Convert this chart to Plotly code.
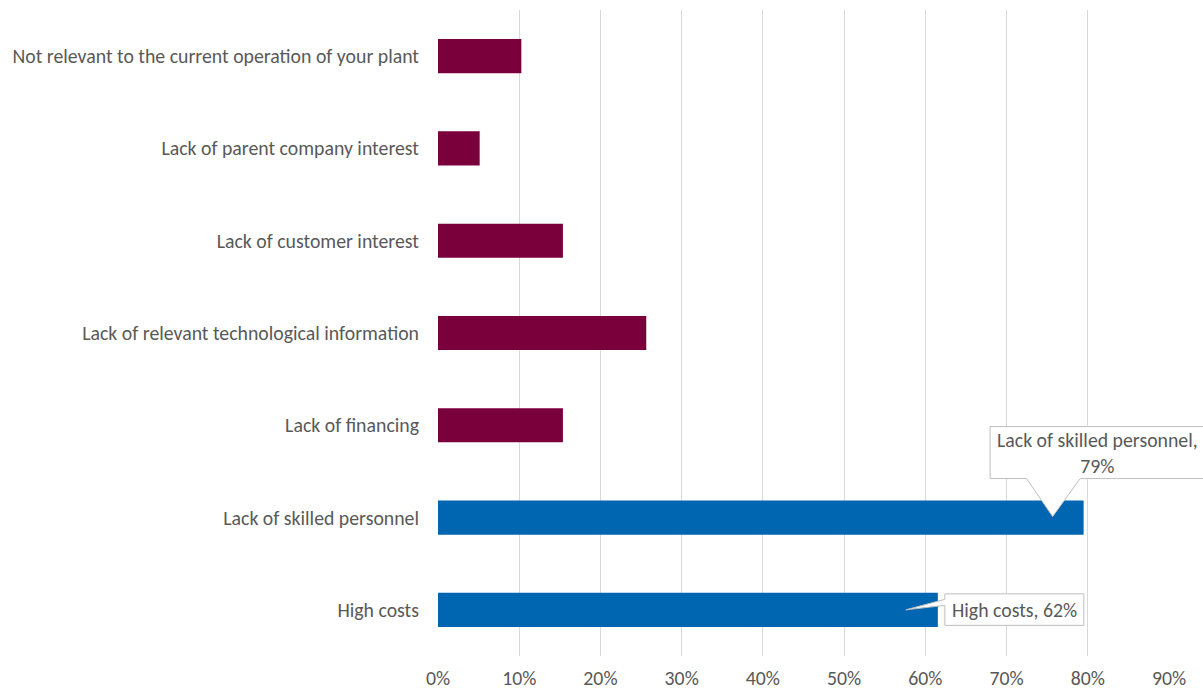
import plotly.graph_objects as go

# Barriers, listed bottom-to-top as they appear on the chart
categories = [
    "High costs",
    "Lack of skilled personnel",
    "Lack of financing",
    "Lack of relevant technological information",
    "Lack of customer interest",
    "Lack of parent company interest",
    "Not relevant to the current operation of your plant",
]
shares = [0.6154, 0.7949, 0.1538, 0.2564, 0.1538, 0.0513, 0.1026]
highlighted = [True, True, False, False, False, False, False]
x_ticks = [0, 0.1, 0.2, 0.3, 0.4, 0.5, 0.6, 0.7, 0.8, 0.9]

BLUE = "#0066B2"
MAROON = "#7A003C"
TEXT = "#595959"
GRID = "#D9D9D9"
FONT = "Carlito, Lato, sans-serif"
FS = 19.8

W, H = 1203, 691
M = dict(l=438, r=34, t=10, b=35)
PW = W - M["l"] - M["r"]
PH = H - M["t"] - M["b"]
X_MAX = 0.9

fig = go.Figure(
    go.Bar(
        x=shares,
        y=categories,
        orientation="h",
        marker=dict(color=[BLUE if h else MAROON for h in highlighted], line=dict(width=0)),
        width=0.37,
        hoverinfo="x+y",
    )
)


def px_to_paper(bar_x, bar_i, dx, dy):
    """Paper coords of a point offset (dx, dy) pixels from a bar's end."""
    x0 = bar_x / X_MAX
    y0 = (bar_i + 0.5) / len(categories)
    return x0 + dx / PW, y0 - dy / PH


def callout_path(pts):
    return "M " + " L ".join(f"{x:.5f},{y:.5f}" for x, y in pts) + " Z"


shapes = []
annotations = []

# Callout above the "Lack of skilled personnel" bar, pointer down into the bar
i = categories.index("Lack of skilled personnel")
v = shares[i]
pts = [
    px_to_paper(v, i, -93.5, -91),
    px_to_paper(v, i, 121, -91),
    px_to_paper(v, i, 121, -39),
    px_to_paper(v, i, -3.5, -39),
    px_to_paper(v, i, -31, -1),
    px_to_paper(v, i, -57, -39),
    px_to_paper(v, i, -93.5, -39),
]
shapes.append(dict(type="path", xref="paper", yref="paper", path=callout_path(pts),
                   fillcolor="white", line=dict(color="#BFBFBF", width=1), layer="above"))
tx, ty = px_to_paper(v, i, 13.5, -65)
annotations.append(dict(x=tx, y=ty, xref="paper", yref="paper", showarrow=False,
                        text=f"{categories[i]},<br>{v:.0%}", align="center",
                        xanchor="center", yanchor="middle",
                        font=dict(family=FONT, size=FS, color=TEXT)))

# Callout right of the "High costs" bar, pointer left into the bar
i = categories.index("High costs")
v = shares[i]
pts = [
    px_to_paper(v, i, 7, -16),
    px_to_paper(v, i, 146, -16),
    px_to_paper(v, i, 146, 15.5),
    px_to_paper(v, i, 7, 15.5),
    px_to_paper(v, i, 7, -4.5),
    px_to_paper(v, i, -32, 0),
    px_to_paper(v, i, 7, -10.5),
]
shapes.append(dict(type="path", xref="paper", yref="paper", path=callout_path(pts),
                   fillcolor="white", line=dict(color="#BFBFBF", width=1), layer="above"))
tx, ty = px_to_paper(v, i, 77, 0)
annotations.append(dict(x=tx, y=ty, xref="paper", yref="paper", showarrow=False,
                        text=f"{categories[i]}, {v:.0%}",
                        xanchor="center", yanchor="middle",
                        font=dict(family=FONT, size=FS, color=TEXT)))

fig.update_layout(
    width=W,
    height=H,
    margin=M,
    paper_bgcolor="white",
    plot_bgcolor="white",
    showlegend=False,
    shapes=shapes,
    annotations=annotations,
    font=dict(family=FONT, size=FS, color=TEXT),
    xaxis=dict(
        range=[0, X_MAX],
        tickvals=x_ticks,
        tickformat=".0%",
        showgrid=True,
        gridcolor=GRID,
        gridwidth=1,
        zeroline=False,
        showline=False,
        ticks="",
        ticklabelstandoff=8,
        tickfont=dict(family=FONT, size=FS, color=TEXT),
        automargin=False,
        fixedrange=True,
    ),
    yaxis=dict(
        type="category",
        categoryorder="array",
        categoryarray=categories,
        range=[-0.5, len(categories) - 0.5],
        showgrid=False,
        zeroline=False,
        showline=False,
        ticks="",
        ticklabelstandoff=18,
        tickfont=dict(family=FONT, size=FS, color=TEXT),
        automargin=False,
        fixedrange=True,
    ),
)

fig.write_html("out.html")
